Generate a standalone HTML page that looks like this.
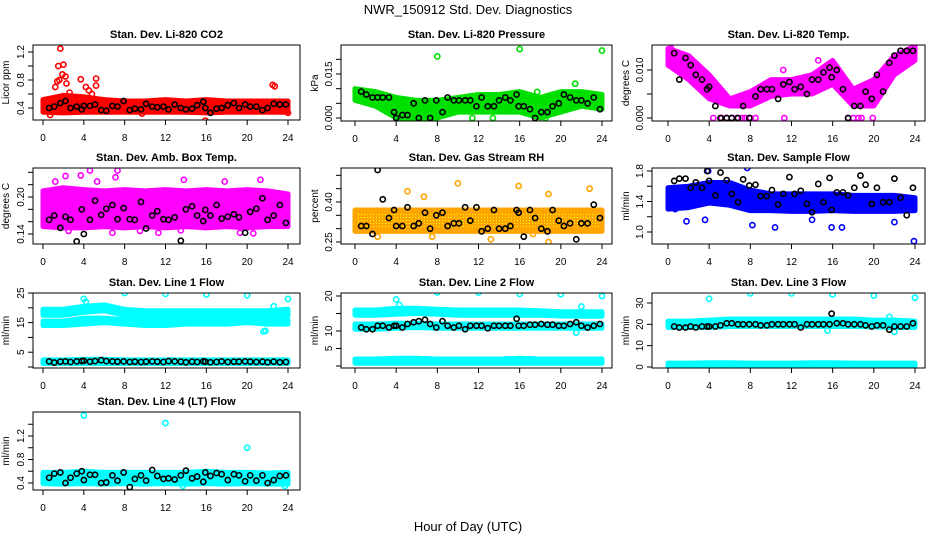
<!DOCTYPE html>
<html><head><meta charset="utf-8"><style>
body{margin:0;background:#fff;}
svg{display:block;font-family:"Liberation Sans",Arial,sans-serif;}
</style></head><body>
<svg id="chart" width="936" height="540" viewBox="0 0 936 540">
<text x="468" y="14" text-anchor="middle" font-size="13">NWR_150912  Std. Dev. Diagnostics</text>
<text x="468" y="531" text-anchor="middle" font-size="13">Hour of Day (UTC)</text>
</svg>
<script>
const xTicks=[0,4,8,12,16,20,24];
const bandHours=[0,2,4,6,8,10,12,14,16,18,20,22,24];
const blackHours=[0.6,1.1,1.7,2.2,2.7,3.3,3.8,4.0,4.6,5.1,5.7,6.2,6.8,7.3,7.9,8.5,9.0,9.6,10.1,10.7,11.2,11.8,12.3,12.9,13.5,14.0,14.6,15.1,15.7,15.9,16.4,17.0,17.5,18.1,18.7,19.2,19.8,20.3,20.9,21.5,22.0,22.6,23.2,23.8];

// Panel 1 CO2
const co2BandLo=[.34,.33,.34,.34,.34,.34,.34,.34,.33,.34,.34,.34,.34];
const co2BandHi=[.52,.58,.56,.52,.50,.50,.52,.50,.52,.50,.50,.50,.50];
const co2OutX=[1.5,1.7,1.9,2.0,2.2,2.3,1.2,1.4,1.6,2.6,3.7,4.2,4.5,5.2,5.2,4.8,22.5,22.7,0.7,15.9,24,9.7];
const co2OutY=[1.0,1.25,0.88,1.02,0.85,0.75,0.7,0.78,0.8,0.62,0.81,0.7,0.65,0.82,0.72,0.6,0.73,0.71,0.3,0.22,0.33,0.32];
const co2Black=[.40,.42,.47,.50,.40,.42,.38,.43,.43,.45,.37,.36,.43,.42,.50,.37,.39,.38,.46,.42,.41,.42,.38,.45,.40,.38,.39,.44,.49,.40,.33,.39,.40,.44,.47,.40,.45,.42,.42,.37,.40,.46,.45,.45];
const co2Ticks=[0.4,0.6,0.8,1.0,1.2];
const co2Labels=["0.4","","0.8","","1.2"];
// Panel 2 pressure
const presBandLo=[.006,.004,.000,.000,.000,.002,.002,.002,.002,.000,.002,.004,.003];
const presBandHi=[.010,.009,.007,.006,.006,.007,.008,.008,.009,.007,.009,.009,.008];
const presOutX=[8,16,24,21.4,17.7,11.4,13.4,17.5,18.5];
const presOutY=[.021,.0235,.023,.0117,.0089,0,0,0,0];
const presBlack=[.009,.008,.007,.007,.007,.007,.002,.000,.001,.001,.005,.000,.006,.000,.006,.002,.007,.006,.006,.006,.006,.004,.007,.004,.004,.006,.007,.006,.008,.004,.004,.003,.000,.002,.002,.004,.005,.008,.007,.006,.006,.005,.007,.003];
const presTicks=[0,.005,.01,.015,.02];
const presLabels=["0.000","","","0.015",""];
// Panel 3 Li-820 temp
const ltBandLo=[.011,.008,.004,.0025,.0025,.0045,.005,.005,.007,.0025,.0025,.009,.012];
const ltBandHi=[.0145,.013,.009,.004,.0055,.008,.008,.009,.012,.006,.008,.013,.015];
const ltOutX=[4.4,5.2,5.7,6.2,6.7,7.2,7.5,8.0,8.5,11.3,17.5,18.0,18.5,18.8,19.9,11.2,0.3,14.6];
const ltOutY=[0,0,0,0,0,0,0,0,0,0,0,0,0,0,0,.010,.0145,.012];
const ltBlack=[.0135,.008,.0125,.011,.009,.008,.006,.0065,.0025,0,0,0,0,.0025,0,.0045,.006,.006,.006,.004,.007,.0075,.006,.0065,.005,.008,.008,.0095,.0105,.0085,.010,.006,0,.0025,.0025,.0055,.004,.009,.0055,.0115,.013,.014,.014,.014];
const ltTicks=[0,.005,.01];
const ltLabels=["0.000","","0.010"];
// Panel 4 amb box temp
const abBandLo=[.152,.150,.150,.152,.150,.152,.150,.152,.150,.152,.150,.152,.152];
const abBandHi=[.210,.215,.212,.210,.212,.210,.212,.210,.212,.210,.212,.210,.205];
const abOutX=[7.3,7.1,4.6,2.2,3.7,13.8,21.3,0.2,2.5,6.8,9.5,11.3,19.3,20.6,13.5,1.2,17.8,5.3];
const abOutY=[.243,.232,.243,.234,.235,.228,.228,.155,.145,.142,.145,.142,.142,.141,.146,.225,.225,.225];
const abBlack=[.163,.170,.150,.168,.163,.128,.180,.140,.163,.194,.171,.181,.187,.164,.182,.164,.163,.192,.149,.170,.177,.164,.163,.167,.129,.180,.185,.170,.161,.179,.170,.187,.165,.168,.172,.167,.142,.176,.181,.198,.163,.170,.187,.158];
const abTicks=[.14,.16,.18,.20,.22,.24];
const abLabels=["0.14","","","0.20","",""];
// Panel 5 RH
const rhBandLo=[.29,.29,.29,.29,.29,.29,.29,.29,.29,.29,.29,.29,.29];
const rhBandHi=[.37,.37,.37,.37,.37,.37,.37,.37,.37,.37,.37,.37,.37];
const rhOutX=[10,15.9,22.8,5.1,6.7,18.8,17.3,18.8,7.5,13.2,2.2];
const rhOutY=[.47,.46,.45,.44,.42,.43,.28,.25,.27,.26,.27];
const rhBlack=[.31,.31,.28,.52,.41,.34,.37,.31,.31,.38,.31,.32,.36,.30,.35,.36,.31,.32,.32,.38,.33,.38,.29,.30,.37,.30,.30,.31,.37,.36,.27,.37,.34,.30,.29,.37,.33,.31,.32,.26,.32,.32,.39,.34];
const rhTicks=[.25,.30,.35,.40,.45,.50];
const rhLabels=["0.25","","","0.40","",""];
// Panel 6 sample flow
const sfBandLo=[1.30,1.32,1.38,1.35,1.28,1.28,1.27,1.27,1.28,1.27,1.27,1.27,1.28];
const sfBandHi=[1.58,1.60,1.65,1.65,1.55,1.50,1.50,1.50,1.50,1.48,1.48,1.48,1.45];
const sfOutX=[23.9,7.7,3.9,8.2,10.4,15.9,16.9,1.8,22.0,3.6,0.7,14.0];
const sfOutY=[0.88,1.84,1.80,1.09,1.06,1.06,1.06,1.14,1.13,1.16,1.30,1.16];
const sfBlack=[1.67,1.70,1.70,1.58,1.65,1.58,1.80,1.67,1.48,1.78,1.68,1.50,1.39,1.69,1.61,1.62,1.47,1.47,1.55,1.36,1.50,1.72,1.50,1.54,1.37,1.26,1.63,1.39,1.71,1.29,1.52,1.52,1.48,1.58,1.74,1.62,1.37,1.58,1.39,1.39,1.70,1.45,1.22,1.58];
const sfTicks=[1.0,1.2,1.4,1.6,1.8];
const sfLabels=["1.0","","1.4","","1.8"];
// Panel 7 line 1
const l1UpLo=[17.5,17.5,18.5,19,17.5,17,17,17,17,17,17,17,17.5];
const l1UpHi=[19.5,19.5,20.5,21,19.5,19,19,19,19,19,19,19,19.5];
const l1MidLo=[14,14,14.5,15,14.5,14,14,14.5,14.5,14.5,15,14.5,14.5];
const l1MidHi=[15.5,15.5,16.5,16.5,16,15.5,15.5,16,16,16,16.5,16,16];
const l1BotLo=[1.2,1.2,1.2,1.2,1.2,1.2,1.2,1.2,1.2,1.2,1.2,1.2,1.2];
const l1BotHi=[2.4,2.4,2.6,2.6,2.4,2.4,2.4,2.4,2.4,2.4,2.4,2.4,2.4];
const l1OutX=[8,12,16,20,24,4,4.2,22.6,21.8,21.6,15.8];
const l1OutY=[25,24.7,24.5,24.2,23,23,22,20.5,12.2,12,2.2];
const l1Black=[1.9,1.5,1.8,1.9,1.7,1.9,2.0,2.1,1.8,2.0,2.3,2.0,1.9,1.8,1.9,1.7,1.8,1.7,1.8,1.9,1.8,1.7,2.0,1.9,1.8,1.6,1.8,1.7,1.9,1.8,1.6,1.7,1.9,1.7,1.8,1.8,1.9,1.8,1.7,1.8,1.6,1.8,1.6,1.7];
const l1Ticks=[0,5,10,15,20,25];
const l1Labels=["","5","","15","","25"];
// Panel 8 line 2
const l2UpLo=[14.5,14.5,14.8,15,14.8,14.5,14.5,14.5,14.5,14.5,14.3,14.2,14.2];
const l2UpHi=[16,16,16.5,16.5,16.2,16,16,16,16,15.8,15.5,15.5,15.5];
const l2MidLo=[10.5,10.5,10.8,11,10.8,10.8,10.8,10.8,10.8,10.8,10.8,10.8,10.8];
const l2MidHi=[12,12,12.2,12.2,12,12,12,12,12,12,12,12,12];
const l2BotLo=[0.8,0.8,0.8,0.8,0.8,0.8,0.8,0.8,0.8,0.8,0.8,0.8,0.8];
const l2BotHi=[2.0,2.0,2.2,2.2,2.0,2.0,2.0,2.0,2.2,2.0,2.0,2.0,2.0];
const l2OutX=[8,12,16,20,24,4,4.3,22,21.5];
const l2OutY=[21,21,20.6,20.5,20,19,17.5,17,9.5];
const l2Black=[11.0,10.5,10.5,11.5,11.5,11.0,11.5,11.5,11.0,12.0,12.5,12.8,13.2,12.0,11.0,12.8,11.5,11.0,11.5,10.5,11.5,11.5,11.5,10.8,11.5,11.5,11.5,11.5,13.5,11.5,11.5,11.8,11.8,12.0,11.8,11.8,11.5,11.5,12.0,12.5,11.5,11.0,11.5,12.0];
const l2Ticks=[0,5,10,15,20];
const l2Labels=["","5","10","","20"];
// Panel 9 line 3
const l3UpLo=[18.5,18.5,18.5,19,19,19,19,19,19,19,18.8,18.5,18.5];
const l3UpHi=[21.5,21.5,22,22.5,22.5,22.5,22.5,22.5,22.5,22.5,22,22,21.5];
const l3BotLo=[0.4,0.4,0.4,0.4,0.4,0.4,0.4,0.4,0.4,0.4,0.4,0.4,0.4];
const l3BotHi=[1.8,1.8,2.0,2.0,1.8,1.8,1.8,2.0,2.0,1.8,1.8,1.8,1.8];
const l3OutX=[4,8,12,16,20,24,21.5,15.5,22];
const l3OutY=[32,34.5,34.5,34,33.5,32.5,23.5,17,16.5];
const l3Black=[19,18.5,18.5,19,18.5,19,19,19,19,19.5,20.5,20.5,20,20,20,20,19.5,19.5,20,20,20,20,20,18.5,20,20,20,20,20,25,20.5,20.5,20,20,20,19.5,19,19.5,19.5,17.5,19,19,19,20.5];
const l3Ticks=[0,10,20,30];
const l3Labels=["0","10","20","30"];
// Panel 10 line 4
const l4BandLo=[0.39,0.38,0.39,0.38,0.39,0.38,0.39,0.38,0.39,0.38,0.39,0.38,0.38];
const l4BandHi=[0.58,0.58,0.60,0.58,0.58,0.58,0.58,0.58,0.60,0.58,0.58,0.57,0.58];
const l4OutX=[4,12,20,8.5,13.7,23.7];
const l4OutY=[1.55,1.42,1.0,0.33,0.35,0.35];
const l4Black=[.49,.56,.58,.40,.49,.56,.60,.45,.54,.54,.40,.41,.53,.44,.58,.33,.47,.53,.44,.62,.52,.47,.48,.46,.53,.61,.48,.51,.42,.58,.52,.57,.55,.45,.55,.53,.43,.53,.44,.53,.40,.45,.52,.53];
const l4Ticks=[0.4,0.6,0.8,1.0,1.2,1.4];
const l4Labels=["0.4","","0.8","","1.2",""];

const NS="http://www.w3.org/2000/svg";
const svg=document.getElementById('chart');
function mk(tag,attrs,parent){const e=document.createElementNS(NS,tag);for(const k in attrs)e.setAttribute(k,attrs[k]);(parent||svg).appendChild(e);return e;}

const panels=[
 {key:'co2',title:'Stan. Dev. Li-820 CO2',ylab:'Licor ppm',L:33,R:300,T:45,B:120,x0:43,x24:288,v1:0.4,p1:108,v2:1.2,p2:52,color:'#ff0000',bands:[[co2BandLo,co2BandHi]],ox:co2OutX,oy:co2OutY,blk:co2Black,ticks:co2Ticks,labels:co2Labels,ylx:5},
 {key:'pressure',title:'Stan. Dev. Li-820 Pressure',ylab:'kPa',L:341,R:612,T:45,B:121,x0:355,x24:602,v1:0,p1:118,v2:0.015,p2:74,color:'#00e000',bands:[[presBandLo,presBandHi]],ox:presOutX,oy:presOutY,blk:presBlack,ticks:presTicks,labels:presLabels,ylx:314},
 {key:'li820-temp',title:'Stan. Dev. Li-820 Temp.',ylab:'degrees C',L:652,R:925,T:45,B:121,x0:668,x24:915,v1:0,p1:118,v2:0.01,p2:70,color:'#ff00ff',bands:[[ltBandLo,ltBandHi]],ox:ltOutX,oy:ltOutY,blk:ltBlack,ticks:ltTicks,labels:ltLabels,ylx:625},
 {key:'amb-box-temp',title:'Stan. Dev. Amb. Box Temp.',ylab:'degrees C',L:33,R:300,T:168,B:244,x0:43,x24:288,v1:0.14,p1:234,v2:0.20,p2:197,color:'#ff00ff',bands:[[abBandLo,abBandHi]],ox:abOutX,oy:abOutY,blk:abBlack,ticks:abTicks,labels:abLabels,ylx:5},
 {key:'gas-rh',title:'Stan. Dev. Gas Stream RH',ylab:'percent',L:341,R:612,T:168,B:244,x0:355,x24:602,v1:0.25,p1:242,v2:0.40,p2:202,color:'#ffa500',bands:[[rhBandLo,rhBandHi]],ox:rhOutX,oy:rhOutY,blk:rhBlack,ticks:rhTicks,labels:rhLabels,ylx:314,pattern:true},
 {key:'sample-flow',title:'Stan. Dev. Sample Flow',ylab:'ml/min',L:652,R:925,T:168,B:244,x0:668,x24:915,v1:1.0,p1:232,v2:1.8,p2:171,color:'#0000ff',bands:[[sfBandLo,sfBandHi]],ox:sfOutX,oy:sfOutY,blk:sfBlack,ticks:sfTicks,labels:sfLabels,ylx:625},
 {key:'line1',title:'Stan. Dev. Line 1 Flow',ylab:'ml/min',L:33,R:300,T:293,B:368,x0:43,x24:288,v1:0,p1:367,v2:25,p2:293,color:'#00ffff',bands:[[l1UpLo,l1UpHi],[l1MidLo,l1MidHi],[l1BotLo,l1BotHi]],ox:l1OutX,oy:l1OutY,blk:l1Black,ticks:l1Ticks,labels:l1Labels,ylx:5},
 {key:'line2',title:'Stan. Dev. Line 2 Flow',ylab:'ml/min',L:341,R:612,T:293,B:368,x0:355,x24:602,v1:0,p1:366,v2:20,p2:296,color:'#00ffff',bands:[[l2UpLo,l2UpHi],[l2MidLo,l2MidHi],[l2BotLo,l2BotHi]],ox:l2OutX,oy:l2OutY,blk:l2Black,ticks:l2Ticks,labels:l2Labels,ylx:314},
 {key:'line3',title:'Stan. Dev. Line 3 Flow',ylab:'ml/min',L:652,R:925,T:293,B:368,x0:668,x24:915,v1:0,p1:367,v2:30,p2:303,color:'#00ffff',bands:[[l3UpLo,l3UpHi],[l3BotLo,l3BotHi]],ox:l3OutX,oy:l3OutY,blk:l3Black,ticks:l3Ticks,labels:l3Labels,ylx:625},
 {key:'line4',title:'Stan. Dev. Line 4 (LT) Flow',ylab:'ml/min',L:33,R:300,T:412,B:490,x0:43,x24:288,v1:0.4,p1:483,v2:1.2,p2:436,color:'#00ffff',bands:[[l4BandLo,l4BandHi]],ox:l4OutX,oy:l4OutY,blk:l4Black,ticks:l4Ticks,labels:l4Labels,ylx:5}
];

const defs=mk('defs',{});
const pat=mk('pattern',{id:'rhpat',width:3,height:3,patternUnits:'userSpaceOnUse'},defs);
mk('rect',{width:3,height:3,fill:'#ffa500'},pat);
mk('rect',{x:1,y:1,width:1,height:1,fill:'#ffff00'},pat);

panels.forEach(p=>{
  const g=mk('g',{});
  
  
  const X=h=>p.x0+h*(p.x24-p.x0)/24;
  const Y=v=>p.p1+(v-p.v1)*(p.p2-p.p1)/(p.v2-p.v1);
  const cp=mk('clipPath',{id:'clip-'+p.key},defs);
  mk('rect',{x:p.L,y:p.T,width:p.R-p.L,height:p.B-p.T},cp);
  const plot=mk('g',{'clip-path':'url(#clip-'+p.key+')'},g);
  p.bands.forEach((b,bi)=>{
    let pts=[];
    bandHours.forEach((h,i)=>pts.push(X(h)+','+Y(b[1][i])));
    for(let i=bandHours.length-1;i>=0;i--)pts.push(X(bandHours[i])+','+Y(b[0][i]));
    const fill=p.pattern?'url(#rhpat)':p.color;
    const poly=mk('polygon',{points:pts.join(' '),fill:fill,stroke:p.color,'stroke-width':5,'stroke-linejoin':'round'},plot);
    
    
  });
  p.ox.forEach((h,i)=>{
    const c=mk('circle',{cx:X(h),cy:Y(p.oy[i]),r:2.6,fill:'none',stroke:p.color,'stroke-width':1.6},plot);
    
    
  });
  p.blk.forEach((v,i)=>{
    const c=mk('circle',{cx:X(blackHours[i]),cy:Y(v),r:2.6,fill:'none',stroke:'#000','stroke-width':1.6},plot);
    
    
  });
  const box=mk('rect',{x:p.L,y:p.T,width:p.R-p.L,height:p.B-p.T,fill:'none',stroke:'#000','stroke-width':1},g);
  
  
  const t=mk('text',{x:(p.L+p.R)/2,y:p.T-7,'text-anchor':'middle','font-size':11,'font-weight':'bold'},g);
  t.textContent=p.title;
  
  
  mk('line',{x1:X(0),x2:X(24),y1:p.B,y2:p.B,stroke:'#000'},g);
  xTicks.forEach(h=>{
    mk('line',{x1:X(h),x2:X(h),y1:p.B,y2:p.B+5,stroke:'#000'},g);
    const tl=mk('text',{x:X(h),y:p.B+21,'text-anchor':'middle','font-size':10},g);
    tl.textContent=h;
    
    
  });
  const ys=p.ticks.map(Y);
  mk('line',{x1:p.L,x2:p.L,y1:Math.min(...ys),y2:Math.max(...ys),stroke:'#000'},g);
  p.ticks.forEach((v,i)=>{
    mk('line',{x1:p.L-5,x2:p.L,y1:Y(v),y2:Y(v),stroke:'#000'},g);
    if(p.labels[i]){
      const yl=mk('text',{x:p.L-9,y:Y(v),'text-anchor':'middle','font-size':10,transform:'rotate(-90 '+(p.L-9)+' '+Y(v)+')'},g);
      yl.textContent=p.labels[i];
      
      
    }
  });
  const cy=(p.T+p.B)/2;
  const lab=mk('text',{x:p.ylx+4,y:cy,'text-anchor':'middle','font-size':10,transform:'rotate(-90 '+(p.ylx+4)+' '+cy+')'},g);
  lab.textContent=p.ylab;
  
  
});
</script>
</body></html>
